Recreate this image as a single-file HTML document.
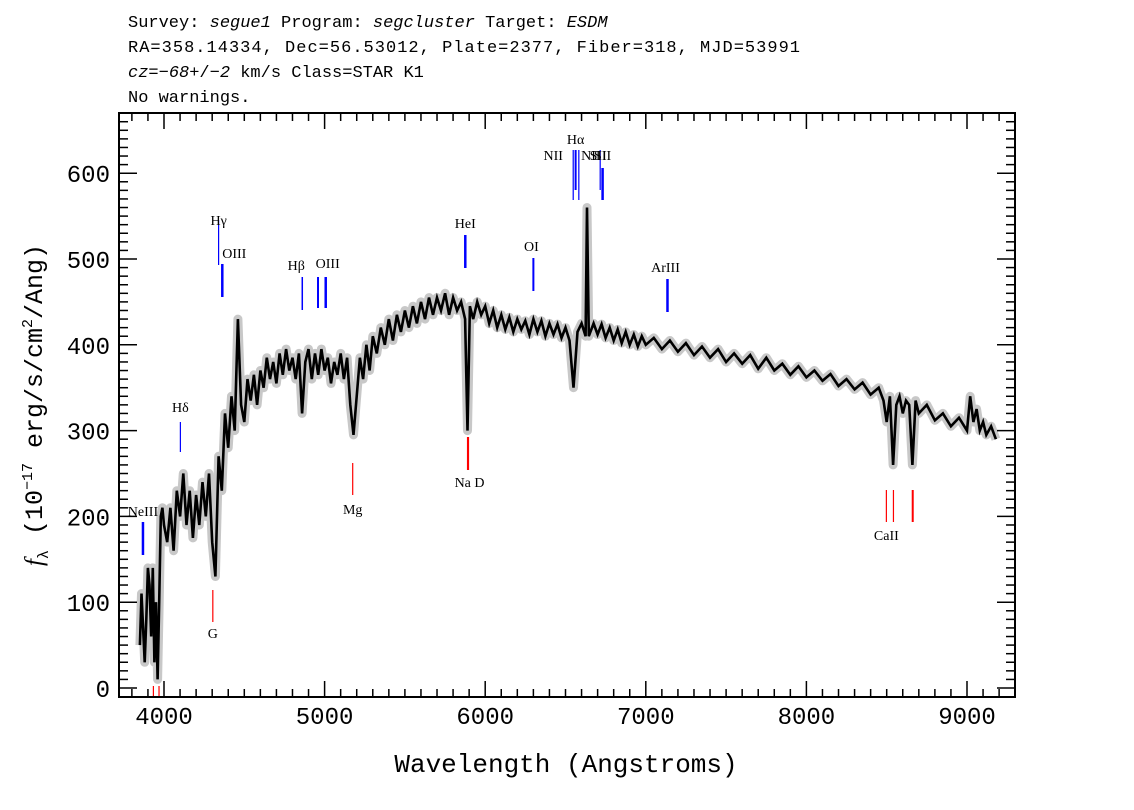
<!DOCTYPE html>
<html><head><meta charset="utf-8"><style>
html,body{margin:0;padding:0;background:#fff;}
svg{display:block;}
text{font-family:"Liberation Serif",serif;}
.hdr{font-family:"Liberation Mono",monospace;font-size:17px;}
.tick{font-family:"Liberation Mono",monospace;font-size:24px;}
.lab{font-size:14px;}
</style></head><body>
<svg id="chart" width="1134" height="810" xmlns="http://www.w3.org/2000/svg">
<g>
<text class="hdr" x="128" y="27">Survey: <tspan font-style="italic">segue1</tspan> Program: <tspan font-style="italic">segcluster</tspan> Target: <tspan font-style="italic">ESDM</tspan></text>
<text class="hdr" x="128" y="52" textLength="672">RA=358.14334, Dec=56.53012, Plate=2377, Fiber=318, MJD=53991</text>
<text class="hdr" x="128" y="77"><tspan font-style="italic">cz</tspan>=−<tspan font-style="italic">68</tspan>+/−<tspan font-style="italic">2</tspan> km/s Class=STAR K1</text>
<text class="hdr" x="128" y="102">No warnings.</text>
</g>
<g id="plot"></g>
<text x="566" y="772" text-anchor="middle" style="font-family:'Liberation Mono',monospace;font-size:26px">Wavelength (Angstroms)</text>
<text transform="translate(42,405) rotate(-90)" text-anchor="middle" style="font-family:'Liberation Mono',monospace;font-size:25px"><tspan font-style="italic" font-family="Liberation Serif">f</tspan><tspan font-size="15" dy="6">λ</tspan><tspan dy="-6"> (10</tspan><tspan font-size="15" dy="-10">−17</tspan><tspan dy="10"> erg/s/cm</tspan><tspan font-size="15" dy="-10">2</tspan><tspan dy="10">/Ang)</tspan></text>
</svg>
<script>
const wl=[3850,3860,3870,3880,3890,3900,3910,3920,3930,3940,3950,3960,3970,3980,3990,
4000,4020,4040,4060,4080,4100,4120,4140,4160,4180,4200,4220,4240,4260,4280,4300,4320,4340,4360,4380,4400,4420,4440,4460,4480,4500,
4520,4540,4560,4580,4600,4620,4640,4660,4680,4700,4720,4740,4760,4780,4800,4820,4840,4860,4880,4900,4920,4940,4960,4980,5000,5020,5040,5060,5080,5100,5120,5140,5160,5180,5200,5220,5240,5260,5280,5300,
5325,5350,5375,5400,5425,5450,5475,5500,5525,5550,5575,5600,5625,5650,5675,5700,5725,5750,5775,5800,5825,5850,5875,5890,5905,5925,5950,5975,6000,
6025,6050,6075,6100,6125,6150,6175,6200,6225,6250,6275,6300,6325,6350,6375,6400,6425,6450,6475,6500,6525,6550,6575,6600,6625,6634,6645,6675,6700,6725,6750,6775,6800,6825,6850,6875,6900,6925,6950,6975,7000,
7050,7100,7150,7200,7250,7300,7350,7400,7450,7500,7550,7600,7650,7700,7750,7800,7850,7900,7950,8000,8050,8100,8150,8200,8250,8300,8350,8400,8450,
8480,8500,8520,8540,8560,8580,8600,8620,8640,8660,8680,8700,8750,8800,8850,8900,8950,9000,9020,9040,9060,9080,9100,9120,9150,9180];
const flux=[50,110,70,30,80,140,120,60,140,30,100,10,100,200,210,
190,170,210,160,230,200,250,190,230,175,225,190,240,200,250,170,130,270,230,320,280,340,300,430,330,310,
360,335,365,330,370,350,385,360,380,355,390,365,395,370,385,360,390,320,380,395,360,390,365,395,370,385,355,380,365,390,360,385,330,295,340,385,360,400,370,410,
390,420,400,430,405,435,415,440,420,445,425,450,430,455,435,455,440,460,435,455,440,450,430,300,445,430,450,435,445,
425,440,420,435,418,432,415,430,418,428,412,430,415,428,410,425,412,424,408,420,405,350,415,425,410,560,410,425,412,424,408,420,405,418,402,415,400,412,398,410,400,
408,395,405,392,402,388,398,385,395,380,390,378,388,372,385,370,378,365,375,362,370,358,366,352,360,348,356,342,350,
335,310,340,260,330,340,320,335,330,260,335,320,330,312,320,305,315,300,340,310,325,300,310,295,305,290];
const xTicks=[4000,5000,6000,7000,8000,9000];
const yTicks=[0,100,200,300,400,500,600];
const lineNames=["NeIII","Hδ","Hγ","OIII","Hβ","OIII","OIII","HeI","OI","NII","Hα","NII","SII","SII","ArIII","G","Mg","Na D","Na D","CaII","CaII","CaII","K","H"];
const lineWl=[3869,4102,4340,4363,4861,4959,5007,5876,6300,6548,6563,6583,6716,6731,7135,4304,5175,5890,5896,8498,8542,8662,3934,3969];
const S='http://www.w3.org/2000/svg';
const L=119,R=1015,T=113,B=697;
const X=v=>164+(v-4000)*0.1606;
const Y=v=>688-v*0.858;
const g=document.getElementById('plot');
function mk(t,a,p){const e=document.createElementNS(S,t);for(const k in a)e.setAttribute(k,a[k]);(p||g).appendChild(e);return e;}
const pts=wl.map((w,i)=>X(w).toFixed(1)+','+Y(flux[i]).toFixed(1)).join(' ');
const err=mk('polyline',{points:pts,fill:'none',stroke:'#c8c8c8','stroke-width':9,'stroke-linejoin':'round'});


const sp=mk('polyline',{points:pts,fill:'none',stroke:'#000','stroke-width':2.6,'stroke-linejoin':'miter'});


// annotation geometry (pixel y): top, bottom, label y (<0 = none), color, width, label dx
const ann=[[522,555,516,'#00f',2.5,0],[422,452,412,'#00f',1.2,0],[220,265,225,'#00f',1.2,0],[264,297,258,'#00f',2.5,12],[277,310,270,'#00f',1.5,-6],[277,308,-100,'#00f',2,0],[277,308,268,'#00f',2.5,2],[235,268,228,'#00f',2.5,0],[258,291,251,'#00f',2,-2],[150,200,160,'#00f',1.2,-20],[150,190,144,'#00f',2,0],[150,200,160,'#00f',1.2,12],[150,190,160,'#00f',1.2,-2],[168,200,160,'#00f',2.5,0],[279,312,272,'#00f',2.5,-2],[590,622,638,'#f00',1.2,0],[463,495,514,'#f00',1.2,0],[437,470,487,'#f00',1.2,0],[437,470,-100,'#f00',1.2,0],[490,522,540,'#f00',1.2,0],[490,522,-100,'#f00',1.2,0],[490,522,-100,'#f00',2,0],[686,697,-100,'#f00',1.2,0],[686,697,-100,'#f00',1.2,0]];
lineWl.forEach((w,i)=>{const a=ann[i];const x=X(w);
 const ln=mk('line',{x1:x,x2:x,y1:a[0],y2:a[1],stroke:a[3],'stroke-width':a[4]});
 
 
 if(a[2]>0){let lx=x+a[5];if(lineNames[i]==='Na D')lx=x+2;
  const t=mk('text',{x:lx,y:a[2],'text-anchor':'middle','class':'lab'});t.textContent=lineNames[i];
  
  }
});
const fr=mk('rect',{x:L,y:T,width:R-L,height:B-T,fill:'none',stroke:'#000','stroke-width':2});


for(let w=3800;w<=9300;w+=100){const x=X(w);if(x<L||x>R)continue;const m=w%1000===0?16:8;
 mk('line',{x1:x,x2:x,y1:B,y2:B-m,stroke:'#000','stroke-width':1.5});mk('line',{x1:x,x2:x,y1:T,y2:T+m,stroke:'#000','stroke-width':1.5});}
for(let v=0;v<=660;v+=10){const y=Y(v);if(y<T)continue;const m=v%100===0?18:9;
 mk('line',{x1:L,x2:L+m,y1:y,y2:y,stroke:'#000','stroke-width':1.5});mk('line',{x1:R,x2:R-m,y1:y,y2:y,stroke:'#000','stroke-width':1.5});}
xTicks.forEach(v=>{const t=mk('text',{x:X(v),y:724,'text-anchor':'middle','class':'tick'});t.textContent=v;
 
 });
yTicks.forEach(v=>{const t=mk('text',{x:110,y:Y(v)+9,'text-anchor':'end','class':'tick'});t.textContent=v;
 
 });
</script>
</body></html>
